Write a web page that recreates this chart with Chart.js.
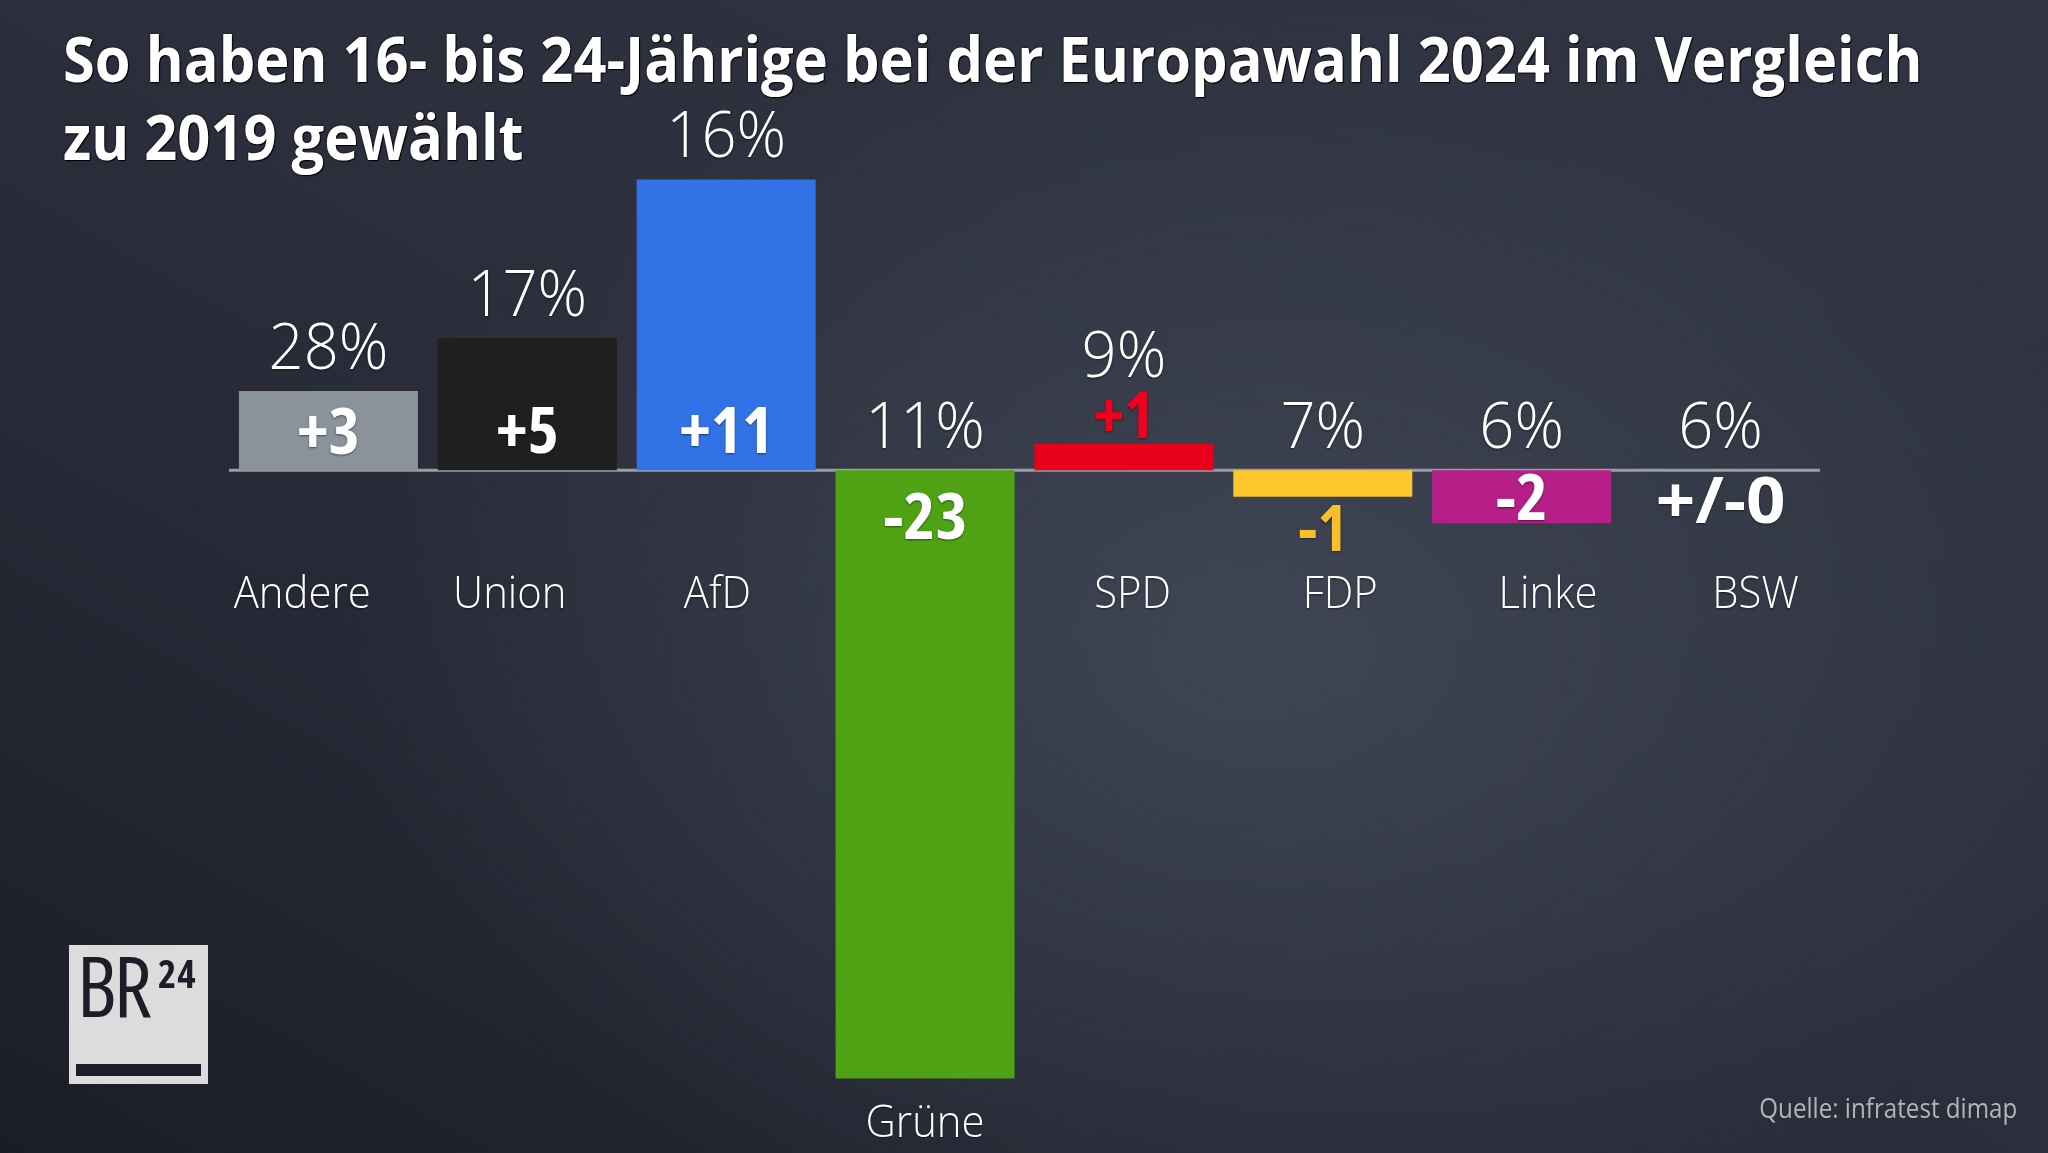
<!DOCTYPE html>
<html lang="de">
<head>
<meta charset="utf-8">
<title>Europawahl 2024 – 16- bis 24-Jährige</title>
<script src="https://cdn.jsdelivr.net/npm/chart.js@4.4.1/dist/chart.umd.min.js"></script>
<style>
  html, body { margin: 0; padding: 0; }
  body {
    width: 2048px; height: 1153px; overflow: hidden; position: relative;
    background:
      radial-gradient(ellipse 900px 650px at 1250px 650px, rgba(80,88,104,0.55) 0%, rgba(80,88,104,0) 100%),
      linear-gradient(to top right, #1b1d26 0%, #262935 30%, #2c2f3c 55%, #313543 100%);
    font-family: "Open Sans", sans-serif; color: #fff;
  }
  #wrap { position: absolute; left: 0; top: 0; width: 2048px; height: 1153px; }
  h1 {
    position: absolute; left: 63px; top: 19px; margin: 0; white-space: nowrap;
    font-size: 62px; font-weight: 700; line-height: 78px;
    transform: scaleX(0.933); transform-origin: left top;
    text-shadow: 0 0 2px #000, 1px 1px 1px #000;
  }
  .source {
    position: absolute; right: 31px; top: 1094px; white-space: nowrap;
    font-size: 27px; line-height: 27px; color: #b3b5ba;
    transform: scaleX(0.895); transform-origin: right top;
  }
  .logo {
    position: absolute; left: 69px; top: 945px; width: 139px; height: 139px;
    background: #dcdcdc;
  }
  .logo .br {
    position: absolute; left: 8px; top: -2px; font-family: "Open Sans", sans-serif;
    font-size: 84px; line-height: 84px; font-stretch: 75%; letter-spacing: -3px; color: #1b1d27;
  }
  .logo .num {
    position: absolute; left: 89px; top: 8px; font-family: "Open Sans", sans-serif;
    font-weight: 700; font-size: 39px; line-height: 39px; font-stretch: 75%; letter-spacing: 1px; color: #1b1d27;
  }
  .logo .bar {
    position: absolute; left: 7px; top: 119px; width: 125px; height: 12px; background: #1b1d27;
  }
</style>
</head>
<body>
<div id="wrap"><canvas id="chart"></canvas></div>
<h1>So haben 16- bis 24-Jährige bei der Europawahl 2024 im Vergleich<br>zu 2019 gewählt</h1>
<div class="logo"><span class="br">BR</span><span class="num">24</span><div class="bar"></div></div>
<div class="source">Quelle: infratest dimap</div>

<script>
// Parteien, Ergebnis 2024 (%) und Veränderung zu 2019 (Prozentpunkte)
const parties = ["Andere", "Union", "AfD", "Grüne", "SPD", "FDP", "Linke", "BSW"];
const share2024 = [28, 17, 16, 11, 9, 7, 6, 6];
const change = [3, 5, 11, -23, 1, -1, -2, 0];
const barColors = ["#8a9399", "#1f1f1f", "#3173e6", "#4fa214", "#e8001b", "#fdc62a", "#b51f87", "#7d2a6b"];
const smallLabelColors = ["#ffffff", "#ffffff", "#ffffff", "#ffffff", "#f0001c", "#f7c02b", "#ffffff", "#ffffff"];

const fmtChange = (v) => (v > 0 ? "+" + v : v < 0 ? String(v) : "+/-0");

// text centred on its cap height, optionally squeezed horizontally
function drawText(ctx, text, x, cy, weight, size, color, stretch, sx) {
  ctx.save();
  ctx.font = `${weight} ${size}px "Open Sans", sans-serif`;
  if ("fontStretch" in ctx) ctx.fontStretch = stretch || "normal";
  ctx.fillStyle = color;
  ctx.textAlign = "center";
  ctx.textBaseline = "alphabetic";
  ctx.shadowColor = "rgba(0,0,0,0.5)";
  ctx.shadowBlur = 2;
  ctx.shadowOffsetY = 1;
  ctx.translate(x, cy + size * 0.357);
  ctx.scale(sx || 1, 1);
  ctx.fillText(text, 0, 0);
  ctx.restore();
}

const labelPlugin = {
  id: "wahlLabels",
  beforeDatasetsDraw(chart) {
    const { ctx, chartArea, scales } = chart;
    const y0 = scales.y.getPixelForValue(0);
    ctx.save();
    ctx.strokeStyle = "#9a9ea6";
    ctx.lineWidth = 3;
    ctx.beginPath();
    ctx.moveTo(chartArea.left, y0);
    ctx.lineTo(chartArea.right, y0);
    ctx.stroke();
    ctx.restore();
  },
  afterDatasetsDraw(chart) {
    const { ctx, scales } = chart;
    const y0 = scales.y.getPixelForValue(0);
    const meta = chart.getDatasetMeta(0);
    const pivot = meta.data[3].x;
    meta.data.forEach((bar, i) => {
      const d = change[i];
      const top = Math.min(bar.y, bar.base);
      const bottom = Math.max(bar.y, bar.base);
      const h = bottom - top;
      let pctY;

      // change label
      if (d === 0) {
        drawText(ctx, fmtChange(d), bar.x, y0 + 30, 700, 64, "#ffffff", "normal", 1.08);
        pctY = y0 - 45;
      } else if (Math.abs(d) === 1) {
        if (d > 0) {
          drawText(ctx, fmtChange(d), bar.x, top - 29, 700, 64, smallLabelColors[i], "condensed");
          pctY = top - 90;
        } else {
          drawText(ctx, fmtChange(d), bar.x, bottom + 31, 700, 64, smallLabelColors[i], "condensed");
          pctY = y0 - 45;
        }
      } else if (d > 0) {
        drawText(ctx, fmtChange(d), bar.x, y0 - Math.min(40, h / 2), 700, 64, "#ffffff", "condensed", 1.04);
        pctY = top - 45;
      } else {
        drawText(ctx, fmtChange(d), bar.x, y0 + Math.min(46, h / 2), 700, 64, "#ffffff", "condensed", 1.06);
        pctY = y0 - 45;
      }

      // 2024 share
      drawText(ctx, share2024[i] + "%", bar.x, pctY, 350, 64, "#ffffff", "normal", 0.96);

      // party name
      const lx = bar.x + (bar.x - pivot) * 0.044;
      const ly = bottom > y0 + 90 ? bottom + 42 : y0 + 122;
      drawText(ctx, parties[i], lx, ly, 350, 45, "#ffffff", "normal", 0.93);
    });
  }
};

new Chart(document.getElementById("chart"), {
  type: "bar",
  data: {
    labels: parties,
    datasets: [{
      data: change,
      backgroundColor: barColors,
      borderWidth: 0,
      categoryPercentage: 1.0,
      barPercentage: 0.9
    }]
  },
  options: {
    responsive: true,
    maintainAspectRatio: false,
    animation: false,
    layout: { padding: { left: 229, right: 228, top: 153, bottom: 48 } },
    scales: {
      x: { display: false },
      y: { display: false, min: -24, max: 12 }
    },
    plugins: {
      legend: { display: false },
      tooltip: { enabled: false }
    }
  },
  plugins: [labelPlugin]
});
</script>
</body>
</html>
